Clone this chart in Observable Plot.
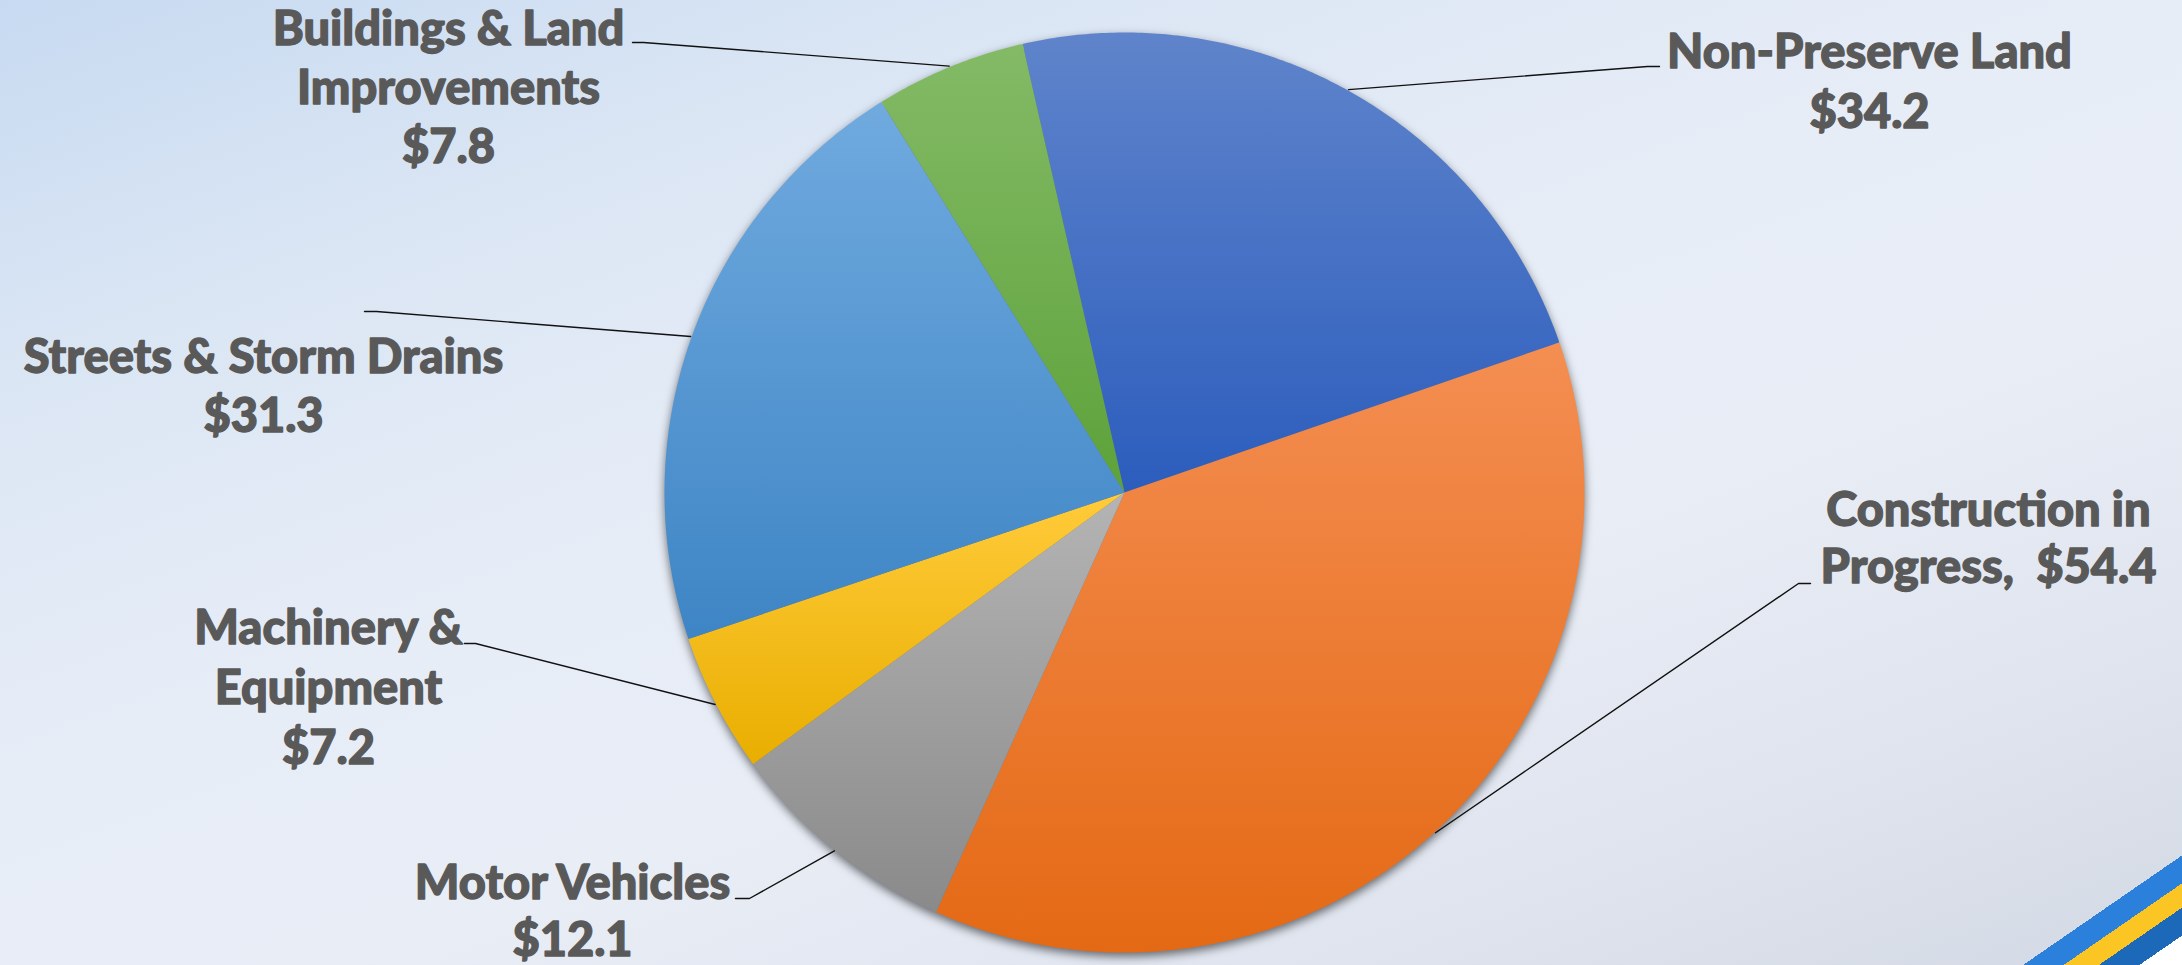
<!DOCTYPE html>
<html><head><meta charset="utf-8">
<script src="https://cdn.jsdelivr.net/npm/d3@7"></script>
<script src="https://cdn.jsdelivr.net/npm/@observablehq/plot@0.6"></script>
<style>
html,body{margin:0;padding:0;width:2182px;height:965px;overflow:hidden;}
body{position:relative;background:linear-gradient(160deg,#c7daf1 0%,#dbe6f4 22%,#e7edf7 45%,#e8edf6 62%,#dfe4ee 82%,#d3d9e4 100%);}
#chart svg{display:block;}
#corner{position:absolute;right:0;bottom:0;width:240px;height:170px;
background:linear-gradient(145.4deg,transparent 186px,#2b80dc 186px,#2b80dc 209px,#fbc524 209px,#fbc524 229px,#1c68b9 229px,#1c68b9 252px,#ffffff 252px);}
</style></head>
<body><div id="chart"></div><div id="corner"></div>
<script>
// ---- data ----
const categories = ["Non-Preserve Land","Construction in Progress","Motor Vehicles","Machinery & Equipment","Streets & Storm Drains","Buildings & Land Improvements"];
const values = [34.2, 54.4, 12.1, 7.2, 31.3, 7.8];
const nameLines = [["Non-Preserve Land"],["Construction in","Progress"],["Motor Vehicles"],["Machinery &","Equipment"],["Streets & Storm Drains"],["Buildings & Land","Improvements"]];
const valueInline = [false, true, false, false, false, false];

// ---- styles / layout ----
const colorsTop = ["#5f84cb","#f48e52","#b4b4b4","#ffcb3a","#70aadf","#84ba66"];
const colorsBottom = ["#2c5dbd","#e46914","#8a8a8a","#e9ae00","#3e85c5","#5da23a"];
const W = 2182, H = 965, cx = 1124, cy = 492, R = 460, startDeg = -12.8;
const fs = 47;
// label center x, first baseline y, line height, leader anchor (ax, ay), elbow x
const labelLayout = [
  {x:1869, y:67,  lh:60, ax:1659, ay:66,  ex:1647},
  {x:1988, y:525, lh:57, ax:1810, ay:583, ex:1798},
  {x:572,  y:898, lh:57, ax:735,  ay:898, ex:749},
  {x:328,  y:643, lh:60, ax:464,  ay:643, ex:475},
  {x:263,  y:372, lh:59, ax:364,  ay:311, ex:376},
  {x:448,  y:44,  lh:59, ax:632,  ay:42,  ex:643}
];

const a0 = startDeg * Math.PI / 180;
const arcs = d3.pie().sort(null).startAngle(a0).endAngle(a0 + 2*Math.PI)(values);

const slicePts = [];
arcs.forEach((a, i) => {
  const n = Math.max(4, Math.ceil((a.endAngle - a.startAngle) / (Math.PI / 360)));
  slicePts.push({i, px: cx, py: cy, fill: `url(#g${i})`});
  for (let k = 0; k <= n; k++) {
    const t = a.startAngle + (a.endAngle - a.startAngle) * k / n;
    slicePts.push({i, px: cx + R*Math.sin(t), py: cy - R*Math.cos(t), fill: `url(#g${i})`});
  }
});

const leaderPts = [];
arcs.forEach((a, i) => {
  const m = (a.startAngle + a.endAngle) / 2, L = labelLayout[i];
  leaderPts.push({i, px: L.ax, py: L.ay}, {i, px: L.ex, py: L.ay},
                 {i, px: cx + (R+1)*Math.sin(m), py: cy - (R+1)*Math.cos(m)});
});

const textRows = [];
categories.forEach((c, i) => {
  const lines = nameLines[i].slice();
  const v = "$" + values[i].toFixed(1);
  if (valueInline[i]) lines[lines.length-1] += ",  " + v; else lines.push(v);
  const L = labelLayout[i];
  lines.forEach((t, j) => textRows.push({x: L.x, y: L.y + j*L.lh, text: t}));
});

const svg = Plot.plot({
  width: W, height: H, margin: 0,
  x: {domain: [0, W], range: [0, W], axis: null},
  y: {domain: [0, H], range: [0, H], axis: null},
  color: {type: "identity"},
  style: {background: "transparent", overflow: "visible"},
  marks: [
    Plot.line(slicePts, {x: "px", y: "py", z: "i", fill: "fill", stroke: "none", curve: "linear"}),
    Plot.line(leaderPts, {x: "px", y: "py", z: "i", stroke: "#111", strokeWidth: 1.4}),
    Plot.text(textRows, {x: "x", y: "y", text: "text", textAnchor: "middle", lineAnchor: "bottom",
      fontSize: fs, fontWeight: 900, fontFamily: "Lato, 'Open Sans', sans-serif", fill: "#595959",
      stroke: "#595959", strokeWidth: 1.3, strokeLinejoin: "round", paintOrder: "normal"})
  ]
});

const NS = "http://www.w3.org/2000/svg";
const defs = document.createElementNS(NS, "defs");
colorsTop.forEach((c, i) => {
  const g = document.createElementNS(NS, "linearGradient");
  g.setAttribute("id", "g" + i); g.setAttribute("x1", 0); g.setAttribute("y1", 0); g.setAttribute("x2", 0); g.setAttribute("y2", 1);
  [[0, c], [1, colorsBottom[i]]].forEach(([o, col]) => {
    const s = document.createElementNS(NS, "stop");
    s.setAttribute("offset", o); s.setAttribute("stop-color", col); g.appendChild(s);
  });
  defs.appendChild(g);
});
svg.insertBefore(defs, svg.firstChild);
const sliceG = svg.querySelector('g[aria-label="line"]');
if (sliceG) sliceG.style.filter = "drop-shadow(0px 4px 5px rgba(0,0,0,0.55))";
document.getElementById("chart").appendChild(svg);
</script>
</body></html>
